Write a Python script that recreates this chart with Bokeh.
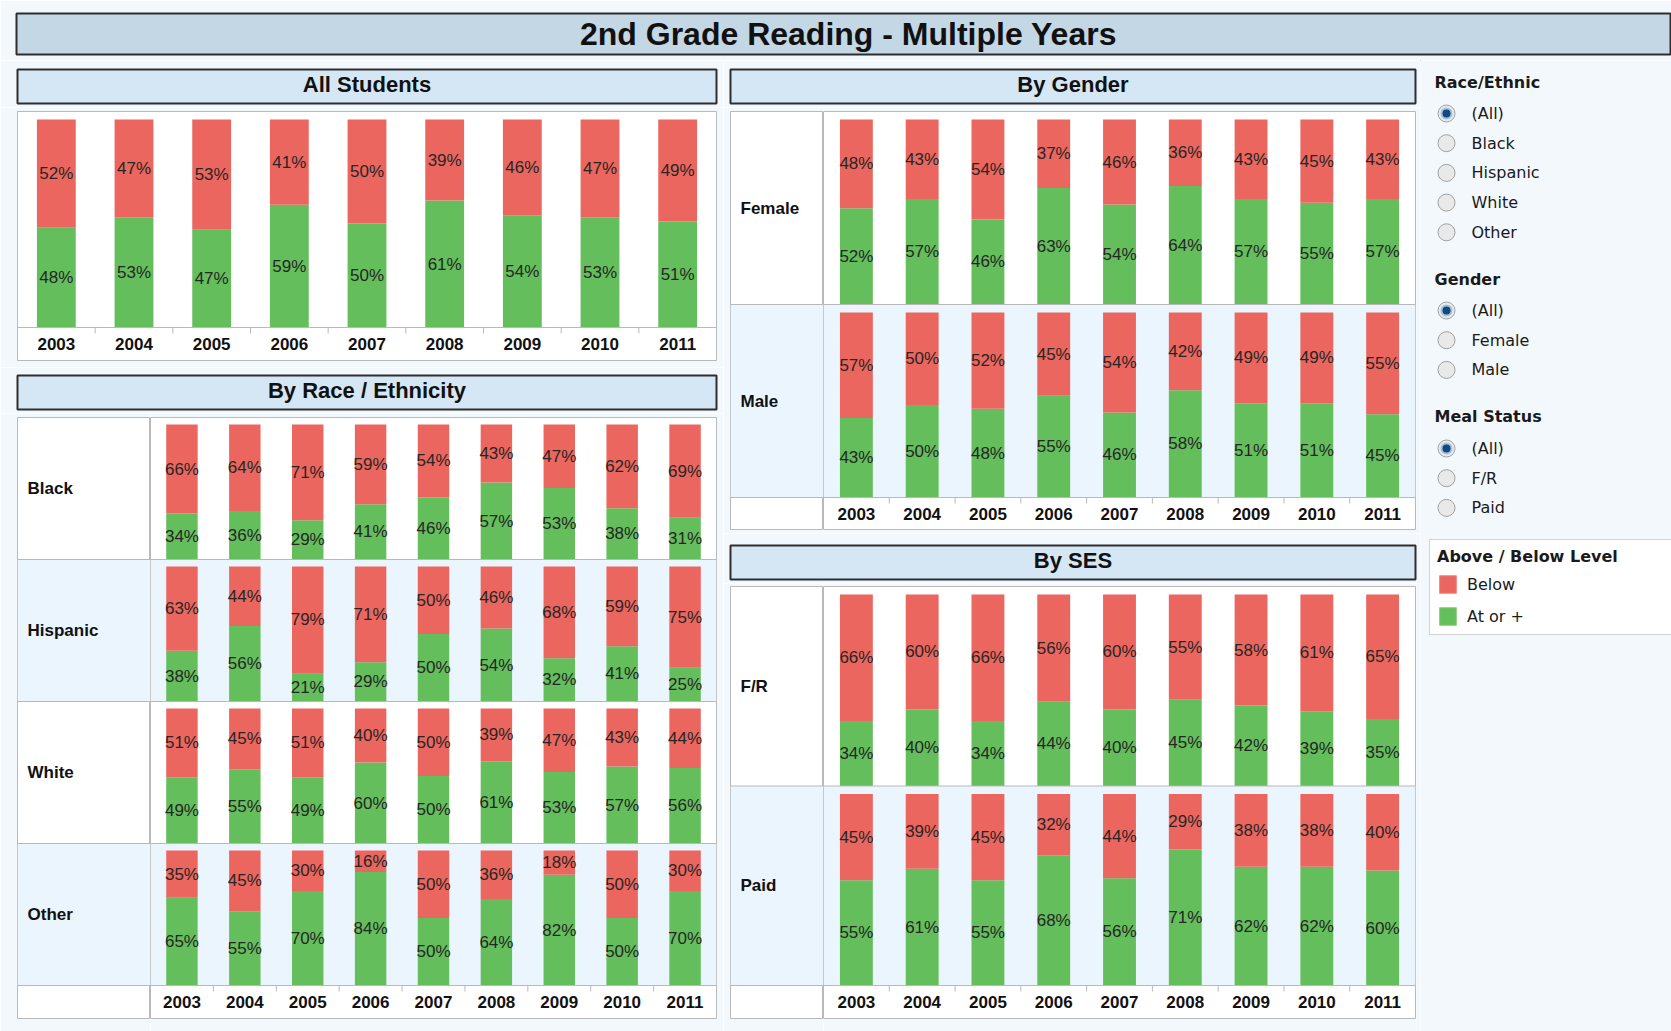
from bokeh.plotting import figure
from bokeh.layouts import row, column
from bokeh.models import (Range1d, FactorRange, BoxAnnotation, Span, Legend,
                          LegendItem, ColumnDataSource)
from bokeh.core.properties import value
from bokeh.embed import file_html
from bokeh.resources import INLINE

# ---------------- data ----------------
years = ["2003", "2004", "2005", "2006", "2007", "2008", "2009", "2010", "2011"]

all_below = [52, 47, 53, 41, 50, 39, 46, 47, 49]
all_at = [48, 53, 47, 59, 50, 61, 54, 53, 51]

race_labels = ["Black", "Hispanic", "White", "Other"]
black_below = [66, 64, 71, 59, 54, 43, 47, 62, 69]
black_at = [34, 36, 29, 41, 46, 57, 53, 38, 31]
hispanic_below = [63, 44, 79, 71, 50, 46, 68, 59, 75]
hispanic_at = [38, 56, 21, 29, 50, 54, 32, 41, 25]
white_below = [51, 45, 51, 40, 50, 39, 47, 43, 44]
white_at = [49, 55, 49, 60, 50, 61, 53, 57, 56]
other_below = [35, 45, 30, 16, 50, 36, 18, 50, 30]
other_at = [65, 55, 70, 84, 50, 64, 82, 50, 70]

gender_labels = ["Female", "Male"]
female_below = [48, 43, 54, 37, 46, 36, 43, 45, 43]
female_at = [52, 57, 46, 63, 54, 64, 57, 55, 57]
male_below = [57, 50, 52, 45, 54, 42, 49, 49, 55]
male_at = [43, 50, 48, 55, 46, 58, 51, 51, 45]

ses_labels = ["F/R", "Paid"]
fr_below = [66, 60, 66, 56, 60, 55, 58, 61, 65]
fr_at = [34, 40, 34, 44, 40, 45, 42, 39, 35]
paid_below = [45, 39, 45, 32, 44, 29, 38, 38, 40]
paid_at = [55, 61, 55, 68, 56, 71, 62, 62, 60]

race_filter = ["(All)", "Black", "Hispanic", "White", "Other"]
gender_filter = ["(All)", "Female", "Male"]
meal_filter = ["(All)", "F/R", "Paid"]
legend_title = "Above / Below Level"
legend_labels = ["Below", "At or +"]

# ---------------- style ----------------
BG = "#f3f8fd"
RED = "#eb665e"
GREEN = "#64be5c"
HEADER_FILL = "#d5e7f5"
TITLE_FILL = "#c3d7e5"
ALT = "#eaf5fe"
GRID = "#b9b9b9"
FONT = "Liberation Sans"
UIFONT = "DejaVu Sans"


def base_fig(w, h, l, r, t, b, xr, yr):
    p = figure(width=w, height=h, x_range=xr, y_range=yr, title=None,
               output_backend="svg", toolbar_location=None,
               x_axis_location=None, y_axis_location=None,
               min_border=0, min_border_left=l, min_border_right=r,
               min_border_top=t, min_border_bottom=b)
    p.xgrid.visible = False
    p.ygrid.visible = False
    p.border_fill_color = BG
    p.background_fill_color = BG
    p.outline_line_color = None
    return p


def header_fig(text, w, h, l, r, t, b):
    fw, fh = w - l - r, h - t - b
    p = base_fig(w, h, l, r, t, b, Range1d(0, fw), Range1d(0, fh))
    p.background_fill_color = HEADER_FILL
    p.outline_line_color = "#2e2e2e"
    p.outline_line_width = 2
    p.text(x=[fw / 2], y=[fh / 2 + 2], text=[text], text_align="center",
           text_baseline="middle", text_font=value(FONT),
           text_font_style="bold", text_font_size="22px", text_color="#111111")
    return p


def chart_fig(below_rows, at_rows, w, h, l, r, t, b, year_px, pad_px):
    n = len(below_rows)
    fh = h - t - b
    row_px = (fh - year_px) / n
    yr = year_px / row_px
    pad = pad_px / row_px
    p = base_fig(w, h, l, r, t, b, FactorRange(factors=years), Range1d(-yr, n))
    p.background_fill_color = "white"
    p.outline_line_color = GRID
    for k in range(n):
        base = n - 1 - k
        if k % 2 == 1:
            p.add_layout(BoxAnnotation(bottom=base, top=base + 1, fill_color=ALT,
                                       fill_alpha=1, line_color=None, level="underlay"))
        if k > 0:
            p.add_layout(Span(location=base + 1, dimension="width",
                              line_color=GRID, line_width=1))
        below, at = below_rows[k], at_rows[k]
        hgt = 1 - pad
        mid = [base + a / (a + bb) * hgt for a, bb in zip(at, below)]
        top = base + hgt
        src = ColumnDataSource(dict(
            x=years, base=[base] * len(years), mid=mid, top=[top] * len(years),
            gl=[f"{a}%" for a in at], rl=[f"{bb}%" for bb in below],
            gy=[(base + m) / 2 for m in mid], ry=[(m + top) / 2 for m in mid]))
        p.vbar(x="x", bottom="base", top="mid", width=0.5, fill_color=GREEN,
               line_color=None, source=src)
        p.vbar(x="x", bottom="mid", top="top", width=0.5, fill_color=RED,
               line_color=None, source=src)
        for col in ("gl", "rl"):
            p.text(x="x", y="gy" if col == "gl" else "ry", text=col, source=src,
                   text_align="center", text_baseline="middle",
                   text_font=value(FONT), text_font_size="17px",
                   text_color="#262626")
    p.add_layout(Span(location=0, dimension="width", line_color=GRID, line_width=1))
    tick = 6 / row_px
    bx = [(yv, -0.5) for yv in years[1:]]
    p.segment(x0=bx, y0=[0] * len(bx), x1=bx, y1=[-tick] * len(bx),
              line_color=GRID, line_width=1)
    p.text(x=years, y=[-yr / 2] * len(years), text=years, text_align="center",
           text_baseline="middle", text_font=value(FONT), text_font_style="bold",
           text_font_size="17px", text_color="#111111")
    return p


def label_fig(labels, w, h, l, r, t, b, year_px):
    n = len(labels)
    fw, fh = w - l - r, h - t - b
    row_px = (fh - year_px) / n
    yr = year_px / row_px
    p = base_fig(w, h, l, r, t, b, Range1d(0, fw), Range1d(-yr, n))
    p.background_fill_color = "white"
    p.outline_line_color = GRID
    for k in range(n):
        base = n - 1 - k
        if k % 2 == 1:
            p.add_layout(BoxAnnotation(bottom=base, top=base + 1, fill_color=ALT,
                                       fill_alpha=1, line_color=None, level="underlay"))
        if k > 0:
            p.add_layout(Span(location=base + 1, dimension="width",
                              line_color=GRID, line_width=1))
    p.add_layout(Span(location=0, dimension="width", line_color=GRID, line_width=1))
    p.text(x=[10] * n, y=[n - 1 - k + 0.5 for k in range(n)], text=labels,
           text_align="left", text_baseline="middle", text_font=value(FONT),
           text_font_style="bold", text_font_size="17px", text_color="#111111")
    return p


# ---------------- title ----------------
tw, th = 1671, 60
title = base_fig(tw, th, 16, 0, 13, 6, Range1d(0, tw - 16), Range1d(0, th - 19))
title.background_fill_color = TITLE_FILL
title.outline_line_color = "#2e2e2e"
title.outline_line_width = 2
title.text(x=[832], y=[(th - 19) / 2], text=["2nd Grade Reading - Multiple Years"],
           text_align="center", text_baseline="middle", text_font=value(FONT),
           text_font_style="bold", text_font_size="32px", text_color="#111111")

# ---------------- left column ----------------
hdr_all = header_fig("All Students", 723, 47, 17, 7, 9, 4)
chart_all = chart_fig([all_below], [all_at], 723, 260, 17, 7, 4, 7, 33, 8)
hdr_race = header_fig("By Race / Ethnicity", 723, 46, 17, 7, 8, 4)
lab_race = label_fig(race_labels, 150, 618, 17, 0, 4, 13, 33)
chart_race = chart_fig([black_below, hispanic_below, white_below, other_below],
                       [black_at, hispanic_at, white_at, other_at],
                       573, 618, 0, 7, 4, 13, 33, 7)
left = column(hdr_all, chart_all, hdr_race, row(lab_race, chart_race, spacing=0),
              spacing=0)

# ---------------- middle column ----------------
hdr_gender = header_fig("By Gender", 697, 47, 7, 5, 9, 4)
lab_gender = label_fig(gender_labels, 100, 426, 7, 0, 4, 4, 32)
chart_gender = chart_fig([female_below, male_below], [female_at, male_at],
                         597, 426, 0, 5, 4, 4, 32, 8)
hdr_ses = header_fig("By SES", 697, 50, 7, 5, 12, 4)
lab_ses = label_fig(ses_labels, 100, 448, 7, 0, 3, 13, 33)
chart_ses = chart_fig([fr_below, paid_below], [fr_at, paid_at],
                      597, 448, 0, 5, 3, 13, 33, 8)
middle = column(hdr_gender, row(lab_gender, chart_gender, spacing=0),
                hdr_ses, row(lab_ses, chart_ses, spacing=0), spacing=0)

# ---------------- right column (filters + legend) ----------------
rw, rh = 251, 971
side = base_fig(rw, rh, 0, 0, 0, 0, Range1d(0, rw), Range1d(rh, 0))

groups = [("Race/Ethnic", race_filter, 22, 53),
          ("Gender", gender_filter, 219, 250),
          ("Meal Status", meal_filter, 356, 388)]
for gtitle, items, ty, y0 in groups:
    side.text(x=[14], y=[ty], text=[gtitle], text_align="left",
              text_baseline="middle", text_font=value(UIFONT),
              text_font_style="bold", text_font_size="16px", text_color="#1a1a1a")
    ys = [y0 + 29.7 * i for i in range(len(items))]
    side.scatter(x=[26] * len(items), y=ys, size=17, marker="circle",
                 fill_color="#e9e9e9", line_color="#a0a0a0", line_width=1)
    side.scatter(x=[26], y=[ys[0]], size=12, marker="circle",
                 fill_color="#9dc2e2", line_color=None)
    side.scatter(x=[26], y=[ys[0]], size=8, marker="circle",
                 fill_color="#14497e", line_color=None)
    side.text(x=[51] * len(items), y=ys, text=items, text_align="left",
              text_baseline="middle", text_font=value(UIFONT),
              text_font_size="16px", text_color="#1a1a1a")

# off-screen proxy glyphs: they only supply the legend swatches
r_below = side.vbar(x=[-1000], bottom=[-1000], top=[-999], width=1,
                    fill_color=RED, line_color="#f08c86")
r_at = side.vbar(x=[-1000], bottom=[-1000], top=[-999], width=1,
                 fill_color=GREEN, line_color="#8ccf86")
legend = Legend(items=[LegendItem(label=legend_labels[0], renderers=[r_below]),
                       LegendItem(label=legend_labels[1], renderers=[r_at])],
                title=legend_title, location=(9, 396), orientation="vertical",
                padding=7, margin=0, spacing=10, glyph_width=21, glyph_height=22,
                label_height=22, label_standoff=9, label_width=220,
                title_standoff=7, border_line_color="#a8a8a8", border_line_width=1,
                background_fill_color="white", background_fill_alpha=1,
                title_text_font=UIFONT, title_text_font_style="bold",
                title_text_font_size="16px", title_text_color="#1a1a1a",
                label_text_font=UIFONT, label_text_font_size="16px",
                label_text_color="#1a1a1a")
side.add_layout(legend)

page = column(title, row(left, middle, side, spacing=0), spacing=0)

open("out.html", "w").write(file_html(page, INLINE))
